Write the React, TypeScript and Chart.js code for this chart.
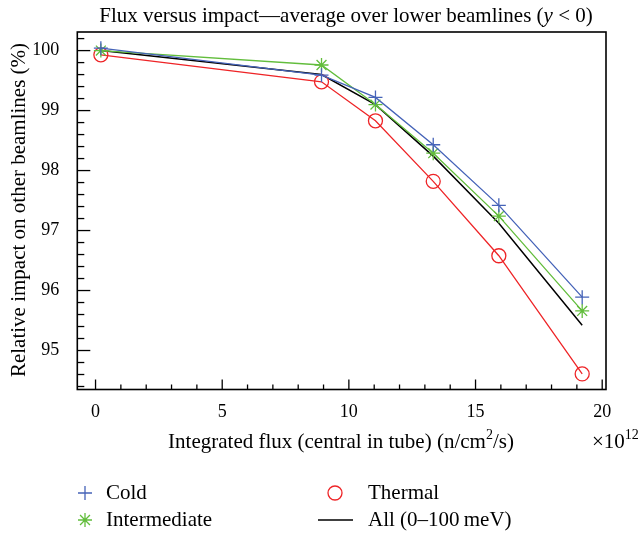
import React, { useEffect, useRef } from "react";
import { Chart, registerables } from "chart.js";

Chart.register(...registerables);

// ---- data (flux in units of 1e12 n/cm^2/s, impact in %) ----
const fluxE12 = [0.21, 8.92, 11.05, 13.33, 15.92, 19.21];
const coldImpact = [100.04, 99.59, 99.22, 98.43, 97.42, 95.89];
const intermediateImpact = [100.0, 99.76, 99.1, 98.29, 97.24, 95.66];
const thermalImpact = [99.93, 99.48, 98.83, 97.82, 96.58, 94.61];
const allImpact = [100.0, 99.6, 99.1, 98.24, 97.12, 95.42];

const xTickValues = [0, 5, 10, 15, 20];
const yTickValues = [95, 96, 97, 98, 99, 100];

const titleParts = ["Flux versus impact\u2014average over lower beamlines (", "y", " < 0)"];
const xTitleParts = ["Integrated flux (central in tube) (n/cm", "2", "/s)"];
const yTitle = "Relative impact on other beamlines (%)";
const legendLabels = ["Cold", "Intermediate", "Thermal", "All (0\u2013100\u2009meV)"];

const BLUE = "#4563b8";
const GREEN = "#62bd3c";
const RED = "#ee2427";
const BLACK = "#000000";
const FONT = "'Liberation Serif', 'Times New Roman', serif";

function pts(ys: number[]) {
  return fluxE12.map((x, i) => ({ x, y: ys[i] }));
}

function drawRuns(ctx: CanvasRenderingContext2D, runs: { t: string; f: string; dy?: number }[], cx: number, y: number, align: "center" | "left") {
  let total = 0;
  for (const r of runs) {
    ctx.font = r.f;
    total += ctx.measureText(r.t).width;
  }
  let x = align === "center" ? cx - total / 2 : cx;
  ctx.textAlign = "left";
  for (const r of runs) {
    ctx.font = r.f;
    ctx.fillText(r.t, x, y + (r.dy || 0));
    x += ctx.measureText(r.t).width;
  }
}

function marker(ctx: CanvasRenderingContext2D, kind: string, x: number, y: number, r: number) {
  ctx.beginPath();
  if (kind === "cross") {
    ctx.moveTo(x - r, y); ctx.lineTo(x + r, y);
    ctx.moveTo(x, y - r); ctx.lineTo(x, y + r);
  } else if (kind === "star") {
    ctx.moveTo(x - r, y); ctx.lineTo(x + r, y);
    ctx.moveTo(x, y - r); ctx.lineTo(x, y + r);
    const d = r * 0.7071;
    ctx.moveTo(x - d, y - d); ctx.lineTo(x + d, y + d);
    ctx.moveTo(x - d, y + d); ctx.lineTo(x + d, y - d);
  } else if (kind === "circle") {
    ctx.arc(x, y, r, 0, Math.PI * 2);
  } else {
    ctx.moveTo(x - 17, y); ctx.lineTo(x + 18, y);
  }
  ctx.stroke();
}

const overlay = {
  id: "overlay",
  afterDraw(chart: any) {
    const ctx: CanvasRenderingContext2D = chart.ctx;
    const { left, right, top, bottom } = chart.chartArea;
    const xs = chart.scales.x;
    const ys = chart.scales.y;
    ctx.save();
    ctx.strokeStyle = "#000";
    ctx.fillStyle = "#000";
    // frame
    ctx.lineWidth = 1.6;
    ctx.strokeRect(left, top, right - left, bottom - top);
    // y ticks (inward)
    ctx.lineWidth = 1.3;
    for (let k = Math.ceil(ys.min * 5); k <= Math.floor(ys.max * 5); k++) {
      const major = k % 5 === 0;
      const p = ys.getPixelForValue(k / 5);
      ctx.beginPath();
      ctx.moveTo(left, p);
      ctx.lineTo(left + (major ? 13 : 7), p);
      ctx.stroke();
    }
    // x ticks (inward)
    for (let k = Math.ceil(xs.min); k <= Math.floor(xs.max); k++) {
      const major = k % 5 === 0;
      const p = xs.getPixelForValue(k);
      ctx.beginPath();
      ctx.moveTo(p, bottom);
      ctx.lineTo(p, bottom - (major ? 10 : 5));
      ctx.stroke();
    }
    ctx.textBaseline = "alphabetic";
    // title
    const tf = `21px ${FONT}`;
    drawRuns(ctx, [
      { t: titleParts[0], f: tf },
      { t: titleParts[1], f: `italic ${tf}` },
      { t: titleParts[2], f: tf },
    ], 346, 22, "center");
    // x title
    const xf = `21px ${FONT}`;
    drawRuns(ctx, [
      { t: xTitleParts[0], f: xf },
      { t: xTitleParts[1], f: `14px ${FONT}`, dy: -9 },
      { t: xTitleParts[2], f: xf },
    ], 341, 448, "center");
    // exponent
    drawRuns(ctx, [
      { t: "\u00d710", f: xf },
      { t: "12", f: `14px ${FONT}`, dy: -9 },
    ], 592, 448, "left");
    // y title
    ctx.save();
    ctx.translate(25, 210);
    ctx.rotate(-Math.PI / 2);
    ctx.font = `21px ${FONT}`;
    ctx.textAlign = "center";
    ctx.fillText(yTitle, 0, 0);
    ctx.restore();
    // legend
    const lf = `21px ${FONT}`;
    const items = [
      { kind: "cross", color: BLUE, label: legendLabels[0], mx: 85, tx: 106, y: 493 },
      { kind: "star", color: GREEN, label: legendLabels[1], mx: 85, tx: 106, y: 520 },
      { kind: "circle", color: RED, label: legendLabels[2], mx: 335, tx: 368, y: 493 },
      { kind: "line", color: BLACK, label: legendLabels[3], mx: 335, tx: 368, y: 520 },
    ];
    for (const it of items) {
      ctx.strokeStyle = it.color;
      ctx.lineWidth = 1.3;
      marker(ctx, it.kind, it.mx, it.y, 7);
      ctx.fillStyle = "#000";
      ctx.font = lf;
      ctx.textAlign = "left";
      ctx.textBaseline = "middle";
      ctx.fillText(it.label, it.tx, it.y);
    }
    ctx.restore();
  },
};

export default function App() {
  const ref = useRef<HTMLCanvasElement | null>(null);
  useEffect(() => {
    if (!ref.current) return;
    const chart = new Chart(ref.current, {
      type: "line",
      data: {
        datasets: [
          {
            label: legendLabels[0], data: pts(coldImpact), borderColor: BLUE, borderWidth: 1.3,
            pointStyle: "cross", pointRadius: 7, pointBorderColor: BLUE, pointBorderWidth: 1.3, pointBackgroundColor: "transparent",
          },
          {
            label: legendLabels[1], data: pts(intermediateImpact), borderColor: GREEN, borderWidth: 1.3,
            pointStyle: "star", pointRadius: 7, pointBorderColor: GREEN, pointBorderWidth: 1.3, pointBackgroundColor: "transparent",
          },
          {
            label: legendLabels[2], data: pts(thermalImpact), borderColor: RED, borderWidth: 1.3,
            pointStyle: "circle", pointRadius: 7, pointBorderColor: RED, pointBorderWidth: 1.3, pointBackgroundColor: "transparent",
          },
          {
            label: legendLabels[3], data: pts(allImpact), borderColor: BLACK, borderWidth: 1.5, pointRadius: 0,
          },
        ],
      },
      options: {
        responsive: false,
        animation: false,
        layout: { padding: { left: 0, top: 32, right: 38, bottom: 0 } },
        plugins: { legend: { display: false }, title: { display: false }, tooltip: { enabled: false } },
        scales: {
          x: {
            type: "linear", min: -0.72, max: 20.15,
            grid: { display: false, drawTicks: false }, border: { display: false },
            afterBuildTicks: (s: any) => { s.ticks = xTickValues.map((v) => ({ value: v })); },
            afterFit: (s: any) => { s.height = 143.5; },
            ticks: { color: "#000", padding: 12, font: { family: FONT, size: 18 }, maxRotation: 0, autoSkip: false },
          },
          y: {
            type: "linear", min: 94.35, max: 100.31,
            grid: { display: false, drawTicks: false }, border: { display: false },
            afterBuildTicks: (s: any) => { s.ticks = yTickValues.map((v) => ({ value: v })); },
            afterFit: (s: any) => { s.width = 77.3; },
            ticks: { color: "#000", padding: 18, font: { family: FONT, size: 18 }, autoSkip: false },
          },
        },
      },
      plugins: [overlay],
    });
    return () => chart.destroy();
  }, []);
  return (
    <div style={{ position: "absolute", left: 0, top: 0, width: 644, height: 533, background: "#fff" }}>
      <canvas ref={ref} width={644} height={533} style={{ width: 644, height: 533, display: "block" }} />
    </div>
  );
}
